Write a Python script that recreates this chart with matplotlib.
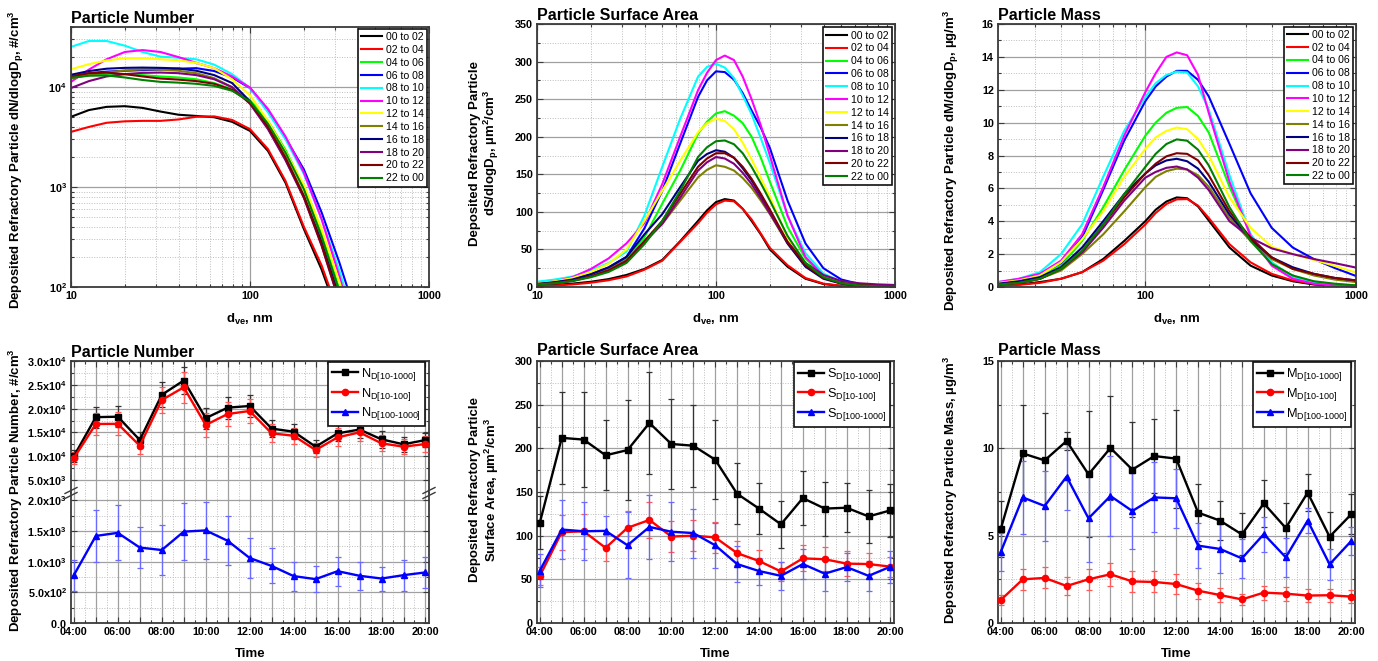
#!/usr/bin/env python3

from __future__ import annotations

import matplotlib

matplotlib.use("Agg")
import matplotlib.pyplot as plt
import numpy as np
from matplotlib.lines import Line2D
from matplotlib.ticker import FixedLocator, FuncFormatter, LogLocator, MultipleLocator, NullFormatter

# ---------------------------------------------------------------- data
WINDOWS = ["00 to 02", "02 to 04", "04 to 06", "06 to 08", "08 to 10", "10 to 12",
           "12 to 14", "14 to 16", "16 to 18", "18 to 20", "20 to 22", "22 to 00"]

# number distribution, dN/dlogDp (#/cm3)
D_N = [10, 12.6, 15.8, 20, 25.1, 31.6, 39.8, 50.1, 63.1, 79.4, 100, 126, 158, 200, 251, 316, 398]
N_00_02 = [5050, 5900, 6350, 6450, 6200, 5700, 5300, 5150, 5000, 4500, 3650, 2300, 1100, 380, 150, 48, 14]
N_02_04 = [3570, 4000, 4400, 4550, 4600, 4600, 4750, 5050, 5100, 4700, 3800, 2400, 1150, 400, 165, 52, 15]
N_04_06 = [12600, 13300, 13600, 13500, 13200, 12800, 12500, 12000, 11000, 9500, 7400, 4600, 2350, 1000, 340, 95, 24]
N_06_08 = [12800, 13800, 14300, 14600, 14800, 15000, 15300, 15500, 14500, 12500, 9800, 5800, 3100, 1500, 560, 175, 48]
N_08_10 = [25300, 29000, 29000, 26000, 22500, 20200, 19700, 19000, 16800, 13500, 9800, 5600, 3000, 1350, 480, 145, 36]
N_10_12 = [11300, 15000, 19000, 22500, 23500, 22500, 20000, 17500, 15500, 12800, 9900, 6050, 3200, 1400, 480, 127, 30]
N_12_14 = [15100, 17000, 18500, 19500, 19500, 19000, 18600, 17500, 15500, 12000, 8300, 4600, 2250, 1050, 380, 112, 28]
N_14_16 = [12200, 13300, 14000, 14700, 15100, 15000, 14600, 13800, 12300, 10000, 7000, 4100, 2000, 830, 290, 82, 20]
N_16_18 = [13300, 14500, 15300, 15600, 15700, 15600, 15400, 14600, 13200, 11000, 7200, 3900, 1900, 800, 280, 78, 19]
N_18_20 = [9800, 11500, 12800, 13500, 13900, 14000, 13800, 13200, 12000, 10000, 6800, 3800, 1850, 780, 260, 70, 18]
N_20_22 = [12800, 13800, 14000, 13500, 12800, 12200, 11900, 11500, 10800, 9400, 7000, 4000, 1950, 800, 265, 72, 18]
N_22_00 = [12400, 13000, 13100, 12500, 11800, 11300, 11100, 10800, 10300, 9200, 7200, 4300, 2200, 950, 320, 90, 22]

# surface distribution, dS/dlogDp (um2/cm3)
D_S = [10, 12.6, 15.8, 20, 25.1, 31.6, 39.8, 50.1, 63.1, 79.4, 89.1, 100, 112, 126, 141, 158, 178,
       200, 251, 316, 398, 501, 631, 794, 1000]
S_00_02 = [1.5, 2.7, 4.5, 7, 10.5, 16, 24, 36, 61, 88, 102, 113, 117, 115, 104, 88, 70, 50, 27, 11, 4, 1.5, 0.6, 0.3, 0.15]
S_02_04 = [1.1, 2.0, 3.4, 5.7, 9, 14, 23, 35, 60, 85, 99, 110, 115, 114, 104, 90, 71, 52, 29, 12, 4.5, 1.6, 0.6, 0.3, 0.15]
S_04_06 = [4, 6.5, 10, 16, 25, 38, 66, 111, 155, 204, 220, 231, 234, 228, 218, 200, 172, 140, 80, 38, 15, 6, 2.5, 1.2, 0.6]
S_06_08 = [4, 6.5, 10, 17, 26, 40, 78, 128, 191, 253, 275, 287, 286, 276, 258, 235, 212, 185, 115, 58, 25, 10, 4, 2, 1]
S_08_10 = [7, 10, 14, 22, 32, 47, 95, 160, 224, 280, 293, 297, 292, 278, 255, 230, 198, 165, 95, 45, 18, 7, 3, 1.5, 0.8]
S_10_12 = [4.5, 7.5, 13, 24, 38, 58, 85, 137, 200, 262, 285, 302, 308, 302, 280, 250, 215, 175, 95, 40, 15, 6, 2.5, 1.2, 0.6]
S_12_14 = [4.5, 7.5, 12, 20, 31, 50, 88, 128, 168, 206, 218, 224, 221, 210, 192, 170, 145, 120, 66, 31, 13, 5.5, 3, 2.2, 1.8]
S_14_16 = [3.8, 6, 9.5, 16, 24, 36, 59, 84, 115, 146, 156, 162, 160, 155, 145, 132, 115, 97, 58, 28, 12, 5, 2.5, 1.3, 0.8]
S_16_18 = [4, 6.5, 10, 17, 26, 40, 70, 97, 133, 168, 177, 182, 180, 172, 158, 142, 122, 100, 58, 27, 11, 4.5, 2.2, 1.3, 1.0]
S_18_20 = [3, 5, 8, 14, 22, 35, 61, 84, 119, 155, 166, 173, 171, 164, 152, 137, 118, 98, 60, 32, 16, 8, 5, 3.5, 2.7]
S_20_22 = [3.5, 5.5, 8.5, 14, 22, 34, 61, 88, 124, 160, 171, 178, 178, 172, 160, 144, 124, 103, 60, 29, 12, 5, 2.5, 1.4, 1.0]
S_22_00 = [3.5, 5, 8, 13, 20, 32, 57, 88, 128, 173, 186, 194, 195, 190, 178, 160, 138, 115, 68, 32, 13, 5, 2, 1, 0.5]

# mass distribution, dM/dlogDp (ug/m3)
D_M = [20, 25.1, 31.6, 39.8, 50.1, 63.1, 79.4, 100, 112, 126, 141, 158, 178, 200, 251, 316, 398, 501, 631, 794, 1000]
M_00_02 = [0.1, 0.15, 0.3, 0.5, 0.9, 1.7, 2.8, 4.0, 4.7, 5.2, 5.45, 5.4, 4.9, 4.05, 2.4, 1.3, 0.7, 0.35, 0.15, 0.07, 0.03]
M_02_04 = [0.08, 0.13, 0.25, 0.5, 0.9, 1.6, 2.6, 3.8, 4.5, 5.05, 5.33, 5.35, 4.95, 4.2, 2.6, 1.5, 0.8, 0.4, 0.2, 0.1, 0.05]
M_04_06 = [0.2, 0.35, 0.6, 1.3, 2.8, 4.85, 7.1, 9.2, 10.0, 10.6, 10.9, 10.95, 10.4, 9.4, 6.1, 3.2, 1.5, 0.6, 0.3, 0.15, 0.1]
M_06_08 = [0.25, 0.4, 0.75, 1.45, 3.0, 5.9, 8.9, 11.3, 12.2, 12.8, 13.15, 13.15, 12.6, 11.6, 8.7, 5.7, 3.6, 2.4, 1.7, 1.15, 0.67]
M_08_10 = [0.3, 0.5, 0.9, 2.0, 3.8, 6.7, 9.5, 11.55, 12.4, 12.9, 13.1, 13.05, 12.2, 10.8, 6.8, 3.2, 1.5, 0.6, 0.25, 0.1, 0.05]
M_10_12 = [0.3, 0.5, 0.8, 1.6, 3.2, 6.07, 9.2, 11.85, 13.0, 14.0, 14.27, 14.1, 12.9, 10.6, 6.4, 3.1, 1.3, 0.5, 0.2, 0.1, 0.05]
M_12_14 = [0.25, 0.4, 0.7, 1.5, 2.9, 4.6, 6.7, 8.4, 9.1, 9.5, 9.7, 9.6, 9.0, 8.0, 5.45, 3.6, 2.45, 2.0, 1.65, 1.28, 0.88]
M_14_16 = [0.15, 0.25, 0.5, 1.0, 2.0, 3.2, 4.6, 6.07, 6.7, 7.05, 7.2, 7.15, 6.8, 6.1, 4.2, 2.8, 1.7, 1.1, 0.7, 0.45, 0.3]
M_16_18 = [0.2, 0.35, 0.6, 1.2, 2.4, 4.0, 5.65, 6.9, 7.4, 7.7, 7.8, 7.65, 7.2, 6.4, 4.4, 2.9, 1.8, 1.2, 0.8, 0.55, 0.4]
M_18_20 = [0.15, 0.25, 0.5, 1.1, 2.1, 3.6, 5.25, 6.65, 7.0, 7.25, 7.33, 7.15, 6.65, 5.9, 4.0, 3.0, 2.35, 2.0, 1.7, 1.45, 1.18]
M_20_22 = [0.15, 0.25, 0.5, 1.1, 2.2, 3.8, 5.45, 6.9, 7.5, 7.95, 8.14, 8.1, 7.7, 6.8, 4.6, 3.0, 1.8, 1.1, 0.8, 0.55, 0.4]
M_22_00 = [0.15, 0.25, 0.5, 1.1, 2.2, 3.8, 5.65, 7.3, 8.1, 8.7, 8.98, 8.9, 8.35, 7.4, 4.85, 2.8, 1.4, 0.7, 0.35, 0.2, 0.1]

# hourly time series
TIME_H = [4, 5, 6, 7, 8, 9, 10, 11, 12, 13, 14, 15, 16, 17, 18, 19, 20]

N_TOTAL = [10000, 18200, 18300, 13400, 22900, 25900, 18000, 20200, 20550, 15800, 15150, 12000, 14800, 15600, 13540, 12500, 13400]
N_TOTAL_ERR = [1300, 2200, 2250, 1750, 2600, 2900, 2200, 2300, 2350, 1800, 1550, 1400, 1700, 1700, 1800, 1600, 1400]
N_SMALL = [9600, 16770, 16800, 12200, 21800, 24470, 16560, 18870, 19500, 14800, 14300, 11300, 13960, 15000, 12700, 12000, 12560]
N_SMALL_ERR = [1200, 2400, 2400, 1700, 2800, 3300, 2500, 2500, 2600, 1900, 1700, 1500, 1900, 1900, 1700, 1600, 1600]
N_LARGE = [780, 1420, 1470, 1230, 1190, 1490, 1510, 1340, 1060, 930, 765, 715, 845, 770, 725, 780, 825]
N_LARGE_ERR = [255, 430, 450, 335, 410, 470, 470, 400, 320, 285, 235, 212, 235, 230, 195, 250, 255]

S_TOTAL = [115, 212, 210, 192, 198, 229, 205, 203, 187, 148, 131, 113, 143, 131, 132, 122, 129]
S_TOTAL_ERR = [30, 53, 54, 40, 57, 58, 52, 47, 45, 35, 29, 27, 31, 31, 28, 30, 30]
S_SMALL = [54, 104, 105, 86, 109, 118, 99, 100, 98, 80, 71, 59, 74, 73, 68, 67.5, 64.5]
S_SMALL_ERR = [10, 20, 20, 15, 19, 21, 18, 18, 18, 14, 13, 10.5, 15, 14, 14.5, 13, 11.5]
S_LARGE = [60, 107, 105, 105.5, 89, 110, 104.5, 103, 89, 67.5, 59.5, 54, 67.5, 56.5, 64, 54, 64.5]
S_LARGE_ERR = [19, 34, 33, 17.5, 38, 36.5, 34, 28, 26, 20.5, 15.5, 16, 17.5, 19.5, 16, 17, 18.5]

M_TOTAL = [5.4, 9.71, 9.31, 10.42, 8.51, 10.02, 8.78, 9.56, 9.41, 6.32, 5.86, 5.07, 6.85, 5.44, 7.46, 4.94, 6.24]
M_TOTAL_ERR = [1.6, 2.75, 2.7, 0.5, 3.6, 3.0, 2.7, 2.13, 2.8, 1.64, 1.12, 1.2, 1.35, 1.45, 1.07, 1.43, 1.14]
M_SMALL = [1.32, 2.5, 2.58, 2.12, 2.5, 2.79, 2.38, 2.35, 2.23, 1.85, 1.6, 1.35, 1.74, 1.68, 1.57, 1.59, 1.51]
M_SMALL_ERR = [0.3, 0.6, 0.6, 0.5, 0.6, 0.65, 0.6, 0.6, 0.55, 0.45, 0.38, 0.3, 0.4, 0.4, 0.38, 0.38, 0.38]
M_LARGE = [4.08, 7.19, 6.7, 8.38, 5.99, 7.27, 6.41, 7.19, 7.14, 4.43, 4.24, 3.7, 5.09, 3.76, 5.86, 3.36, 4.71]
M_LARGE_ERR = [1.1, 2.1, 2.0, 1.9, 2.5, 2.3, 2.2, 2.0, 1.7, 1.3, 1.4, 1.1, 1.0, 1.1, 0.7, 0.9, 0.8]

# ---------------------------------------------------------------- style
WINDOW_COLORS = ["#000000", "#ff0000", "#00ff00", "#0000ff", "#00ffff", "#ff00ff",
                 "#ffff00", "#808000", "#000080", "#800080", "#800000", "#008000"]
FIG_W, FIG_H = 1378, 661
AXIS_COLOR = "#3a3a3a"


def configure_matplotlib() -> None:
    plt.rcParams["font.family"] = ["Liberation Sans", "DejaVu Sans"]
    plt.rcParams["mathtext.fontset"] = "custom"
    plt.rcParams["mathtext.rm"] = "Liberation Sans"
    plt.rcParams["mathtext.bf"] = "Liberation Sans:bold"
    plt.rcParams["mathtext.it"] = "Liberation Sans:italic"
    plt.rcParams["mathtext.default"] = "regular"


def px_axes(fig: plt.Figure, left: float, top: float, right: float, bottom: float) -> plt.Axes:
    return fig.add_axes([left / FIG_W, 1 - bottom / FIG_H, (right - left) / FIG_W, (bottom - top) / FIG_H])


def fig_text(fig: plt.Figure, x: float, y: float, text: str, **kw) -> None:
    fig.text(x / FIG_W, 1 - y / FIG_H, text, **kw)


def style_axis(ax: plt.Axes) -> None:
    for spine in ax.spines.values():
        spine.set_linewidth(1.3)
        spine.set_color(AXIS_COLOR)
    ax.tick_params(which="both", direction="in", top=True, right=True, color=AXIS_COLOR,
                   labelsize=7.8, width=0.8)
    ax.tick_params(which="major", length=4, pad=3)
    ax.tick_params(which="minor", length=2)
    ax.grid(which="major", color="#a0a0a0", lw=0.9, ls="-")
    ax.grid(which="minor", color="#bdbdbd", lw=0.7, ls=(0, (1, 1.6)))
    ax.set_axisbelow(True)
    for lab in ax.get_xticklabels() + ax.get_yticklabels():
        lab.set_fontweight("bold")


def plain_log(value: float, _pos) -> str:
    return f"{value:g}"


def sci_label(value: float, _pos) -> str:
    if value == 0:
        return r"$\mathbf{0.0}$"
    exp = int(np.floor(np.log10(value) + 1e-9))
    return r"$\mathbf{%.1fx10^{%d}}$" % (value / 10 ** exp, exp)


def hour_label(value: float, _pos) -> str:
    hour = int(round(value))
    return f"{hour:02d}:00" if hour % 2 == 0 else ""


def size_legend(ax: plt.Axes, anchor: tuple[float, float]) -> None:
    leg = ax.legend(loc="upper right", bbox_to_anchor=anchor, fontsize=7.6, frameon=True,
                    fancybox=False, framealpha=1, edgecolor="#111111", borderaxespad=0,
                    labelspacing=0.27, handlelength=2.0, handletextpad=0.35, borderpad=0.3)
    leg.get_frame().set_linewidth(1.2)


def draw_size_panel(ax: plt.Axes, diam: list[float], curves: list[list[float]]) -> None:
    for label, values, color in zip(WINDOWS, curves, WINDOW_COLORS):
        ax.plot(diam, values, color=color, lw=1.5, label=label)
    ax.set_xscale("log")
    ax.xaxis.set_major_formatter(FuncFormatter(plain_log))
    ax.xaxis.set_minor_locator(LogLocator(base=10, subs=np.arange(2, 10)))
    ax.xaxis.set_minor_formatter(NullFormatter())
    ax.set_xlabel(r"d$_\mathbf{ve}$, nm", fontsize=9.5, fontweight="bold", labelpad=8)


def plot_number_dist(fig: plt.Figure) -> None:
    ax = px_axes(fig, 71, 27, 429, 287)
    draw_size_panel(ax, D_N, [N_00_02, N_02_04, N_04_06, N_06_08, N_08_10, N_10_12,
                              N_12_14, N_14_16, N_16_18, N_18_20, N_20_22, N_22_00])
    ax.set_yscale("log")
    ax.set_xlim(10, 1000)
    ax.set_ylim(100, 40000)
    ax.yaxis.set_major_locator(FixedLocator([100, 1000, 10000]))
    ax.yaxis.set_major_formatter(FuncFormatter(lambda v, p: r"$\mathbf{10^{%d}}$" % round(np.log10(v))))
    ax.yaxis.set_minor_locator(LogLocator(base=10, subs=np.arange(2, 10)))
    ax.yaxis.set_minor_formatter(NullFormatter())
    style_axis(ax)
    size_legend(ax, (0.994, 0.993))
    ax.text(0, 1.005, "Particle Number", transform=ax.transAxes, fontsize=11.5,
            fontweight="bold", ha="left", va="bottom")
    fig_text(fig, 16, 160, r"Deposited Refractory Particle dN/dlogD$_\mathbf{p}$, #/cm$^\mathbf{3}$",
             rotation=90, ha="center", va="center", fontsize=9.5, fontweight="bold")


def plot_surface_dist(fig: plt.Figure) -> None:
    ax = px_axes(fig, 537, 24, 895, 287)
    draw_size_panel(ax, D_S, [S_00_02, S_02_04, S_04_06, S_06_08, S_08_10, S_10_12,
                              S_12_14, S_14_16, S_16_18, S_18_20, S_20_22, S_22_00])
    ax.set_xlim(10, 1000)
    ax.set_ylim(0, 350)
    ax.yaxis.set_major_locator(MultipleLocator(50))
    ax.yaxis.set_minor_locator(MultipleLocator(25))
    style_axis(ax)
    size_legend(ax, (0.992, 0.987))
    ax.text(0, 1.005, "Particle Surface Area", transform=ax.transAxes, fontsize=11.5,
            fontweight="bold", ha="left", va="bottom")
    fig_text(fig, 485, 153, "Deposited Refractory Particle\n"
             r"dS/dlogD$_\mathbf{p}$, µm$^\mathbf{2}$/cm$^\mathbf{3}$",
             rotation=90, ha="center", va="center", fontsize=9.5, fontweight="bold",
             multialignment="center", linespacing=1.1)


def plot_mass_dist(fig: plt.Figure) -> None:
    ax = px_axes(fig, 998, 24, 1356, 287)
    draw_size_panel(ax, D_M, [M_00_02, M_02_04, M_04_06, M_06_08, M_08_10, M_10_12,
                              M_12_14, M_14_16, M_16_18, M_18_20, M_20_22, M_22_00])
    ax.set_xlim(20, 1000)
    ax.set_ylim(0, 16)
    ax.yaxis.set_major_locator(MultipleLocator(2))
    ax.yaxis.set_minor_locator(MultipleLocator(1))
    style_axis(ax)
    size_legend(ax, (0.992, 0.99))
    ax.text(0, 1.005, "Particle Mass", transform=ax.transAxes, fontsize=11.5,
            fontweight="bold", ha="left", va="bottom")
    fig_text(fig, 951, 160, r"Deposited Refractory Particle dM/dlogD$_\mathbf{p}$, µg/m$^\mathbf{3}$",
             rotation=90, ha="center", va="center", fontsize=9.5, fontweight="bold")


def time_axis(ax: plt.Axes, labels: bool = True) -> None:
    ax.set_xlim(3.87, 20.16)
    ax.xaxis.set_major_locator(FixedLocator(TIME_H))
    ax.xaxis.set_minor_locator(MultipleLocator(0.5))
    ax.xaxis.set_major_formatter(FuncFormatter(hour_label) if labels else NullFormatter())


def draw_series(ax: plt.Axes, values, errors, color, ecolor, marker) -> None:
    ax.errorbar(TIME_H, values, yerr=errors, fmt="-" + marker, color=color, ms=4.5, lw=1.7,
                ecolor=ecolor, elinewidth=0.9, capsize=2.5, capthick=0.9, zorder=3)


def series_legend(ax: plt.Axes, letter: str, anchor: tuple[float, float]) -> None:
    specs = [("#000000", "s", "10-1000"), ("#ff0000", "o", "10-100"), ("#0000ff", "^", "100-1000")]
    handles = [Line2D([], [], color=c, marker=m, ms=4.5, lw=1.7) for c, m, _ in specs]
    labels = [r"%s$_{\text{D[%s]}}$" % (letter, rng) for _, _, rng in specs]
    leg = ax.legend(handles, labels, loc="upper right", bbox_to_anchor=anchor, fontsize=9.2,
                    frameon=True, fancybox=False, framealpha=1, edgecolor="#111111",
                    borderaxespad=0, labelspacing=0.22, handlelength=2.1, handletextpad=0.2,
                    borderpad=0.3)
    leg.get_frame().set_linewidth(1.2)


def plot_number_time(fig: plt.Figure) -> None:
    ax_hi = px_axes(fig, 71, 361, 429, 493)
    ax_lo = px_axes(fig, 71, 493, 429, 623)
    for ax in (ax_hi, ax_lo):
        draw_series(ax, N_TOTAL, N_TOTAL_ERR, "#000000", "#333333", "s")
        draw_series(ax, N_SMALL, N_SMALL_ERR, "#ff0000", "#ff5a5a", "o")
        draw_series(ax, N_LARGE, N_LARGE_ERR, "#0000ff", "#6a6aff", "^")
    time_axis(ax_hi, labels=False)
    time_axis(ax_lo)
    ax_hi.set_ylim(2270, 30000)
    ax_hi.yaxis.set_major_locator(FixedLocator([5000, 10000, 15000, 20000, 25000, 30000]))
    ax_hi.yaxis.set_minor_locator(FixedLocator([7500, 12500, 17500, 22500, 27500]))
    ax_hi.yaxis.set_major_formatter(FuncFormatter(sci_label))
    ax_lo.set_ylim(0, 2120)
    ax_lo.yaxis.set_major_locator(FixedLocator([0, 500, 1000, 1500, 2000]))
    ax_lo.yaxis.set_minor_locator(FixedLocator([250, 750, 1250, 1750]))
    ax_lo.yaxis.set_major_formatter(FuncFormatter(sci_label))
    style_axis(ax_hi)
    style_axis(ax_lo)
    ax_hi.spines["bottom"].set_visible(False)
    ax_lo.spines["top"].set_visible(False)
    ax_hi.tick_params(which="both", bottom=False)
    ax_lo.tick_params(which="both", top=False)
    # axis break marks
    for xpx in (71, 429):
        for dy in (-2.5, 2.5):
            fig.add_artist(Line2D([(xpx - 6) / FIG_W, (xpx + 6) / FIG_W],
                                  [1 - (493 + dy + 3) / FIG_H, 1 - (493 + dy - 3) / FIG_H],
                                  color=AXIS_COLOR, lw=1.0))
    series_legend(ax_hi, "N", (0.988, 0.993))
    ax_hi.text(0, 1.01, "Particle Number", transform=ax_hi.transAxes, fontsize=11.5,
               fontweight="bold", ha="left", va="bottom")
    ax_lo.set_xlabel("Time", fontsize=9.5, fontweight="bold", labelpad=8)
    fig_text(fig, 16, 490, r"Deposited Refractory Particle Number, #/cm$^\mathbf{3}$",
             rotation=90, ha="center", va="center", fontsize=9.5, fontweight="bold")


def plot_surface_time(fig: plt.Figure) -> None:
    ax = px_axes(fig, 537, 361, 894, 623)
    draw_series(ax, S_TOTAL, S_TOTAL_ERR, "#000000", "#333333", "s")
    draw_series(ax, S_SMALL, S_SMALL_ERR, "#ff0000", "#ff5a5a", "o")
    draw_series(ax, S_LARGE, S_LARGE_ERR, "#0000ff", "#6a6aff", "^")
    time_axis(ax)
    ax.set_ylim(0, 300)
    ax.yaxis.set_major_locator(MultipleLocator(50))
    ax.yaxis.set_minor_locator(MultipleLocator(25))
    style_axis(ax)
    series_legend(ax, "S", (0.989, 0.995))
    ax.text(0, 1.01, "Particle Surface Area", transform=ax.transAxes, fontsize=11.5,
            fontweight="bold", ha="left", va="bottom")
    ax.set_xlabel("Time", fontsize=9.5, fontweight="bold", labelpad=8)
    fig_text(fig, 485, 490, "Deposited Refractory Particle\n"
             r"Surface Area, µm$^\mathbf{2}$/cm$^\mathbf{3}$",
             rotation=90, ha="center", va="center", fontsize=9.5, fontweight="bold",
             multialignment="center", linespacing=1.1)


def plot_mass_time(fig: plt.Figure) -> None:
    ax = px_axes(fig, 998, 361, 1355, 623)
    draw_series(ax, M_TOTAL, M_TOTAL_ERR, "#000000", "#333333", "s")
    draw_series(ax, M_SMALL, M_SMALL_ERR, "#ff0000", "#ff5a5a", "o")
    draw_series(ax, M_LARGE, M_LARGE_ERR, "#0000ff", "#6a6aff", "^")
    time_axis(ax)
    ax.set_ylim(0, 15)
    ax.yaxis.set_major_locator(MultipleLocator(5))
    ax.yaxis.set_minor_locator(MultipleLocator(2.5))
    style_axis(ax)
    series_legend(ax, "M", (0.989, 0.995))
    ax.text(0, 1.01, "Particle Mass", transform=ax.transAxes, fontsize=11.5,
            fontweight="bold", ha="left", va="bottom")
    ax.set_xlabel("Time", fontsize=9.5, fontweight="bold", labelpad=8)
    fig_text(fig, 951, 490, r"Deposited Refractory Particle Mass, µg/m$^\mathbf{3}$",
             rotation=90, ha="center", va="center", fontsize=9.5, fontweight="bold")


def main() -> None:
    configure_matplotlib()
    fig = plt.figure(figsize=(FIG_W / 100, FIG_H / 100), dpi=100)
    plot_number_dist(fig)
    plot_surface_dist(fig)
    plot_mass_dist(fig)
    plot_number_time(fig)
    plot_surface_time(fig)
    plot_mass_time(fig)
    fig.savefig("out.png", dpi=100, facecolor="white")
    plt.close(fig)


if __name__ == "__main__":
    main()
